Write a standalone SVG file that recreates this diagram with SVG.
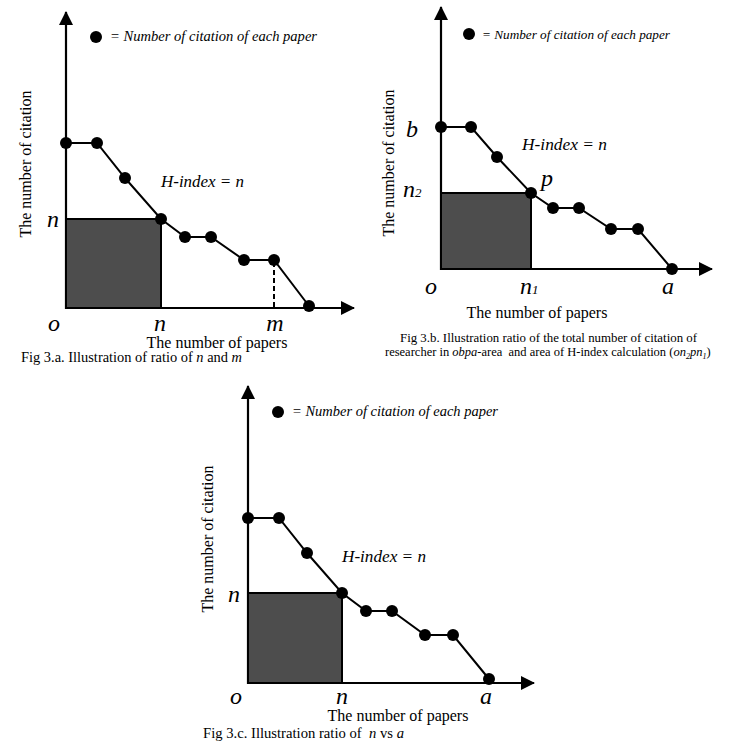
<svg xmlns="http://www.w3.org/2000/svg" width="732" height="750" viewBox="0 0 732 750">
<style>
.ax{stroke:#000;stroke-width:2.2;fill:none}
.cv{stroke:#000;stroke-width:2;fill:none}
.bx{fill:#4d4d4d;stroke:#000;stroke-width:2}
.dot{fill:#000}
.t{font-family:"Liberation Serif","Times New Roman",serif;fill:#000}
.i{font-style:italic}
.big{font-size:24px;font-style:italic}
.lab{font-size:16px}
.leg{font-size:14px;font-style:italic}
.cap{font-size:14px}
</style>
<defs>
<marker id="ah" markerWidth="14" markerHeight="14" refX="13" refY="7" orient="auto" markerUnits="userSpaceOnUse">
<path d="M0,0 L14,7 L0,14 Z" fill="#000"/>
</marker>
</defs>

<!-- Panel a -->
<g id="panel-a">
<g id="a-axes">
<line class="ax" x1="66" y1="309" x2="66" y2="12" marker-end="url(#ah)"/>
<line class="ax" x1="65" y1="308" x2="354" y2="308" marker-end="url(#ah)"/>
</g>
<rect id="a-box" class="bx" x="66" y="219" width="95" height="89"/>
<g id="a-curve">
<polyline class="cv" points="66,143 97,143 125,178 161,219 185,237 211,237 244,260 274,260 309,306"/>
<line class="cv" x1="274" y1="262" x2="274" y2="308" stroke-dasharray="5,3"/>
</g>
<g id="a-dots">
<circle class="dot" cx="66" cy="143" r="6"/><circle class="dot" cx="97" cy="143" r="6"/>
<circle class="dot" cx="125" cy="178" r="6"/><circle class="dot" cx="161" cy="219" r="6"/>
<circle class="dot" cx="185" cy="237" r="6"/><circle class="dot" cx="211" cy="237" r="6"/>
<circle class="dot" cx="244" cy="260" r="6"/><circle class="dot" cx="274" cy="260" r="6"/>
<circle class="dot" cx="309" cy="306" r="6"/>
</g>
<g id="a-legend">
<circle class="dot" cx="96" cy="37" r="6"/>
<text class="t leg" x="110" y="41" textLength="207" lengthAdjust="spacingAndGlyphs">= Number of citation of each paper</text>
</g>
<text class="t i" x="161" y="187" font-size="16" textLength="83" lengthAdjust="spacingAndGlyphs">H-index = n</text>
<text class="t big" x="53" y="227" text-anchor="middle">n</text>
<text class="t big" x="54" y="331" text-anchor="middle">o</text>
<text class="t big" x="160" y="331" text-anchor="middle">n</text>
<text class="t big" x="275" y="331" text-anchor="middle">m</text>
<text class="t lab" x="217" y="348" text-anchor="middle">The number of papers</text>
<text class="t lab" transform="translate(31,164) rotate(-90)" text-anchor="middle">The number of citation</text>
<text class="t cap" x="21" y="362" textLength="221" lengthAdjust="spacingAndGlyphs">Fig 3.a. Illustration of ratio of <tspan class="i">n</tspan> and <tspan class="i">m</tspan></text>
</g>

<!-- Panel b -->
<g id="panel-b">
<g id="b-axes">
<line class="ax" x1="441" y1="270" x2="441" y2="7" marker-end="url(#ah)"/>
<line class="ax" x1="440" y1="269" x2="712" y2="269" marker-end="url(#ah)"/>
</g>
<rect id="b-box" class="bx" x="441" y="193" width="90" height="76"/>
<polyline id="b-curve" class="cv" points="441,127 471,127 497,157 531,193 553,208 579,208 611,229 638,229 672,269"/>
<g id="b-dots">
<circle class="dot" cx="441" cy="127" r="6"/><circle class="dot" cx="471" cy="127" r="6"/>
<circle class="dot" cx="497" cy="157" r="6"/><circle class="dot" cx="531" cy="193" r="6"/>
<circle class="dot" cx="553" cy="208" r="6"/><circle class="dot" cx="579" cy="208" r="6"/>
<circle class="dot" cx="611" cy="229" r="6"/><circle class="dot" cx="638" cy="229" r="6"/>
<circle class="dot" cx="672" cy="269" r="6"/>
</g>
<g id="b-legend">
<circle class="dot" cx="469" cy="34" r="6"/>
<text class="t i" x="482" y="39" font-size="13" textLength="188" lengthAdjust="spacingAndGlyphs">= Number of citation of each paper</text>
</g>
<text class="t i" x="522" y="150" font-size="16" textLength="85" lengthAdjust="spacingAndGlyphs">H-index = n</text>
<text class="t big" x="541" y="186">p</text>
<text class="t big" x="406" y="137">b</text>
<text class="t big" x="403" y="197">n<tspan font-size="13" font-style="italic">2</tspan></text>
<text class="t big" x="431" y="294" text-anchor="middle">o</text>
<text class="t big" x="520" y="294">n<tspan font-size="13" font-style="italic">1</tspan></text>
<text class="t big" x="668" y="294" text-anchor="middle">a</text>
<text class="t lab" x="537" y="318" text-anchor="middle">The number of papers</text>
<text class="t lab" transform="translate(394,163) rotate(-90)" text-anchor="middle">The number of citation</text>
<text class="t" font-size="12.5" x="400" y="342" textLength="297" lengthAdjust="spacingAndGlyphs">Fig 3.b. Illustration ratio of the total number of citation of</text>
<text class="t" font-size="12.5" x="385" y="356" xml:space="preserve">researcher in <tspan class="i">obpa</tspan>-area  and area of H-index calculation (<tspan class="i">on</tspan><tspan class="i" font-size="8" dy="3">2</tspan><tspan class="i" dy="-3">pn</tspan><tspan class="i" font-size="8" dy="3">1</tspan><tspan dy="-3">)</tspan></text>
</g>

<!-- Panel c -->
<g id="panel-c">
<g id="c-axes">
<line class="ax" x1="248" y1="684" x2="248" y2="386" marker-end="url(#ah)"/>
<line class="ax" x1="247" y1="683" x2="534" y2="683" marker-end="url(#ah)"/>
</g>
<rect id="c-box" class="bx" x="248" y="593" width="94" height="90"/>
<polyline id="c-curve" class="cv" points="248,518 279,518 307,553 342,593 366,611 392,611 425,635 453,635 489,679"/>
<g id="c-dots">
<circle class="dot" cx="248" cy="518" r="6"/><circle class="dot" cx="279" cy="518" r="6"/>
<circle class="dot" cx="307" cy="553" r="6"/><circle class="dot" cx="342" cy="593" r="6"/>
<circle class="dot" cx="366" cy="611" r="6"/><circle class="dot" cx="392" cy="611" r="6"/>
<circle class="dot" cx="425" cy="635" r="6"/><circle class="dot" cx="453" cy="635" r="6"/>
<circle class="dot" cx="489" cy="679" r="6"/>
</g>
<g id="c-legend">
<circle class="dot" cx="278" cy="412" r="6"/>
<text class="t leg" x="292" y="416" textLength="206" lengthAdjust="spacingAndGlyphs">= Number of citation of each paper</text>
</g>
<text class="t i" x="342" y="562" font-size="16" textLength="84" lengthAdjust="spacingAndGlyphs">H-index = n</text>
<text class="t big" x="234" y="602" text-anchor="middle">n</text>
<text class="t big" x="236" y="704" text-anchor="middle">o</text>
<text class="t big" x="342" y="704" text-anchor="middle">n</text>
<text class="t big" x="486" y="704" text-anchor="middle">a</text>
<text class="t lab" x="398" y="721" text-anchor="middle">The number of papers</text>
<text class="t lab" transform="translate(213,539) rotate(-90)" text-anchor="middle">The number of citation</text>
<text class="t cap" x="203" y="738" textLength="201" lengthAdjust="spacingAndGlyphs" xml:space="preserve">Fig 3.c. Illustration ratio of  <tspan class="i">n</tspan> vs <tspan class="i">a</tspan></text>
</g>
</svg>
